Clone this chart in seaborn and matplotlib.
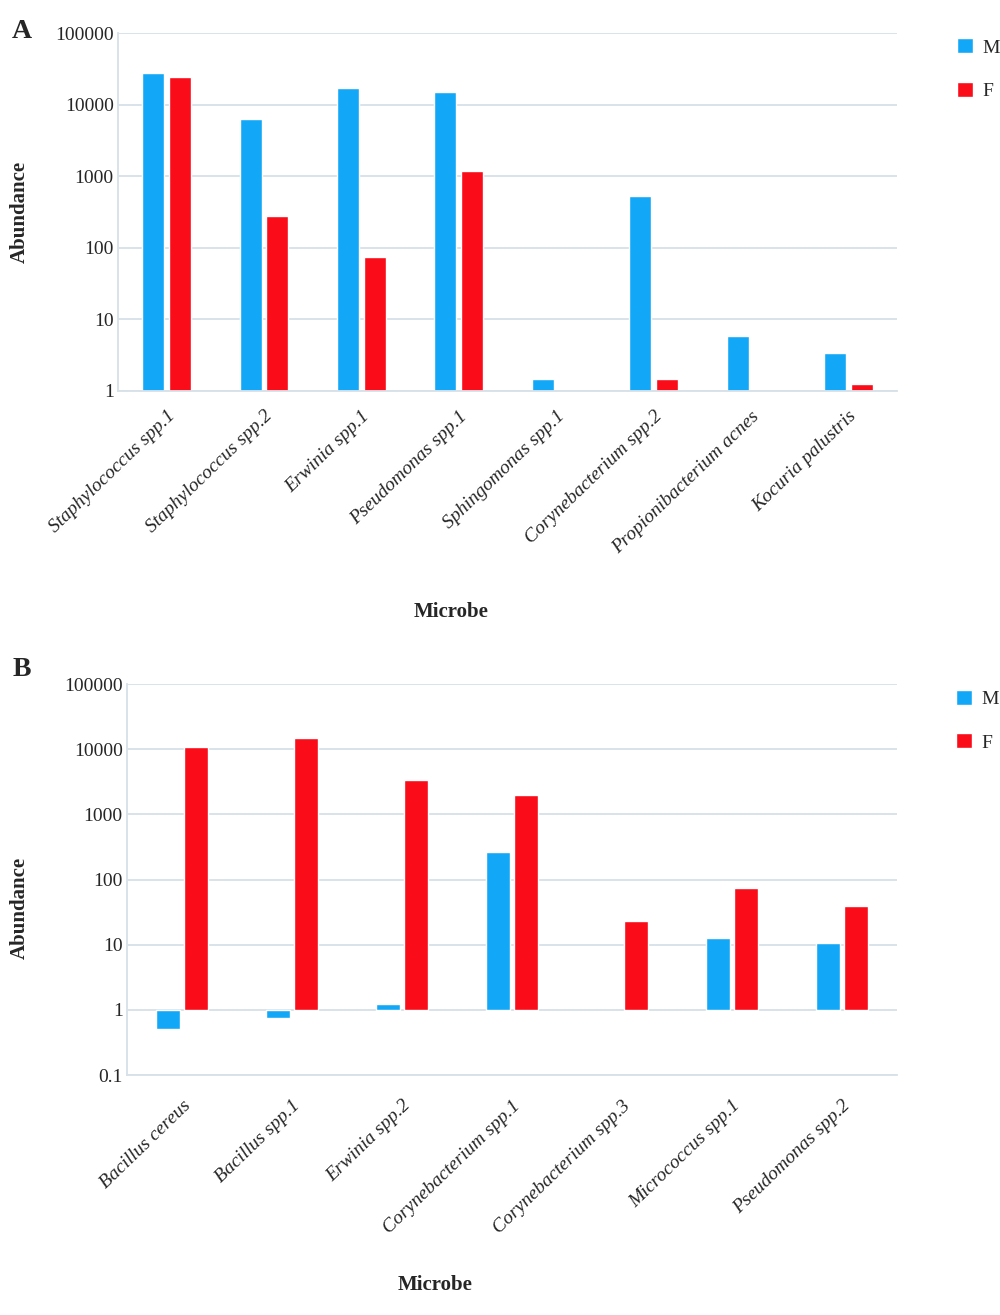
import numpy as np
import pandas as pd
import matplotlib.pyplot as plt
import seaborn as sns

# Panel A data
microbes_a = ["Staphylococcus spp.1", "Staphylococcus spp.2", "Erwinia spp.1",
              "Pseudomonas spp.1", "Sphingomonas spp.1", "Corynebacterium spp.2",
              "Propionibacterium acnes", "Kocuria palustris"]
male_a = [27400, 6300, 17200, 14900, 1.47, 527, 5.9, 3.4]
female_a = [24500, 281, 75, 1180, np.nan, 1.47, np.nan, 1.24]

# Panel B data
microbes_b = ["Bacillus cereus", "Bacillus spp.1", "Erwinia spp.2",
              "Corynebacterium spp.1", "Corynebacterium spp.3",
              "Micrococcus spp.1", "Pseudomonas spp.2"]
male_b = [0.5, 0.74, 1.24, 261, np.nan, 12.6, 10.8]
female_b = [10800, 14900, 3410, 2000, 23.5, 73.8, 39]

sexes = ["M", "F"]
palette = {"M": "#13A8F7", "F": "#FA0C18"}
yticks_a = ["1", "10", "100", "1000", "10000", "100000"]
yticks_b = ["0.1", "1", "10", "100", "1000", "10000", "100000"]

GRID = "#D8E0E8"

sns.set_theme(style="white")
plt.rcParams["font.family"] = ["Liberation Serif", "DejaVu Serif"]


def make_frame(microbes, male, female):
    df = pd.DataFrame({"Microbe": microbes * 2,
                       "Sex": ["M"] * len(microbes) + ["F"] * len(microbes),
                       "Abundance": list(male) + list(female)})
    df = df.dropna()
    # bars start at 1, so plot decades on a linear axis
    df["log_ab"] = np.log10(df["Abundance"])
    return df


def draw_panel(ax, df, order, ylo, ticklabels, width, gap, xpad):
    sns.barplot(data=df, x="Microbe", y="log_ab", hue="Sex", order=order,
                hue_order=sexes, palette=palette, width=width, gap=gap,
                errorbar=None, saturation=1, ax=ax)
    ax.set_ylim(ylo, 5)
    ax.set_yticks(range(ylo, 6))
    ax.set_yticklabels(ticklabels)
    ax.yaxis.grid(True, color=GRID, lw=1.3)
    ax.set_axisbelow(True)
    for s in ["top", "right"]:
        ax.spines[s].set_visible(False)
    for s in ["left", "bottom"]:
        ax.spines[s].set_color(GRID)
        ax.spines[s].set_linewidth(1.3)
    ax.tick_params(axis="y", length=0, labelsize=14, pad=3)
    ax.tick_params(axis="x", length=0, pad=xpad)
    ax.set_xticks(range(len(order)))
    ax.set_xticklabels(order, rotation=44, ha="right", va="top",
                       rotation_mode="anchor", style="italic", fontsize=14)
    ax.set_xlabel("Microbe", fontsize=15, fontweight="bold")
    ax.set_ylabel("Abundance", fontsize=15, fontweight="bold")
    sns.move_legend(ax, "upper left", bbox_to_anchor=(1.077, 0.985),
                    frameon=False, title=None, fontsize=14,
                    handlelength=0.8, handleheight=0.8,
                    handletextpad=0.5, labelspacing=1.3,
                    borderpad=0, borderaxespad=0)


fig = plt.figure(figsize=(10, 13.15), dpi=100)
ax_a = fig.add_axes([0.118, 0.7027, 0.779, 0.2722])
ax_b = fig.add_axes([0.127, 0.1825, 0.770, 0.2973])

df_a = make_frame(microbes_a, male_a, female_a)
df_b = make_frame(microbes_b, male_b, female_b)

draw_panel(ax_a, df_a, microbes_a, 0, yticks_a, 0.55, 0.18, 12)
draw_panel(ax_b, df_b, microbes_b, -1, yticks_b, 0.51, 0.13, 16)

ax_a.xaxis.set_label_coords(0.427, -0.617)
ax_a.xaxis.label.set_va("center")
ax_a.yaxis.set_label_coords(-0.113, 0.5)
ax_b.xaxis.set_label_coords(0.40, -0.537)
ax_b.xaxis.label.set_va("center")
ax_b.yaxis.set_label_coords(-0.126, 0.427)

fig.text(0.022, 1 - 31 / 1315, "A", fontsize=20, fontweight="bold", ha="center", va="center")
fig.text(0.022, 1 - 670 / 1315, "B", fontsize=20, fontweight="bold", ha="center", va="center")

fig.savefig("out.png", dpi=100, facecolor="white")
